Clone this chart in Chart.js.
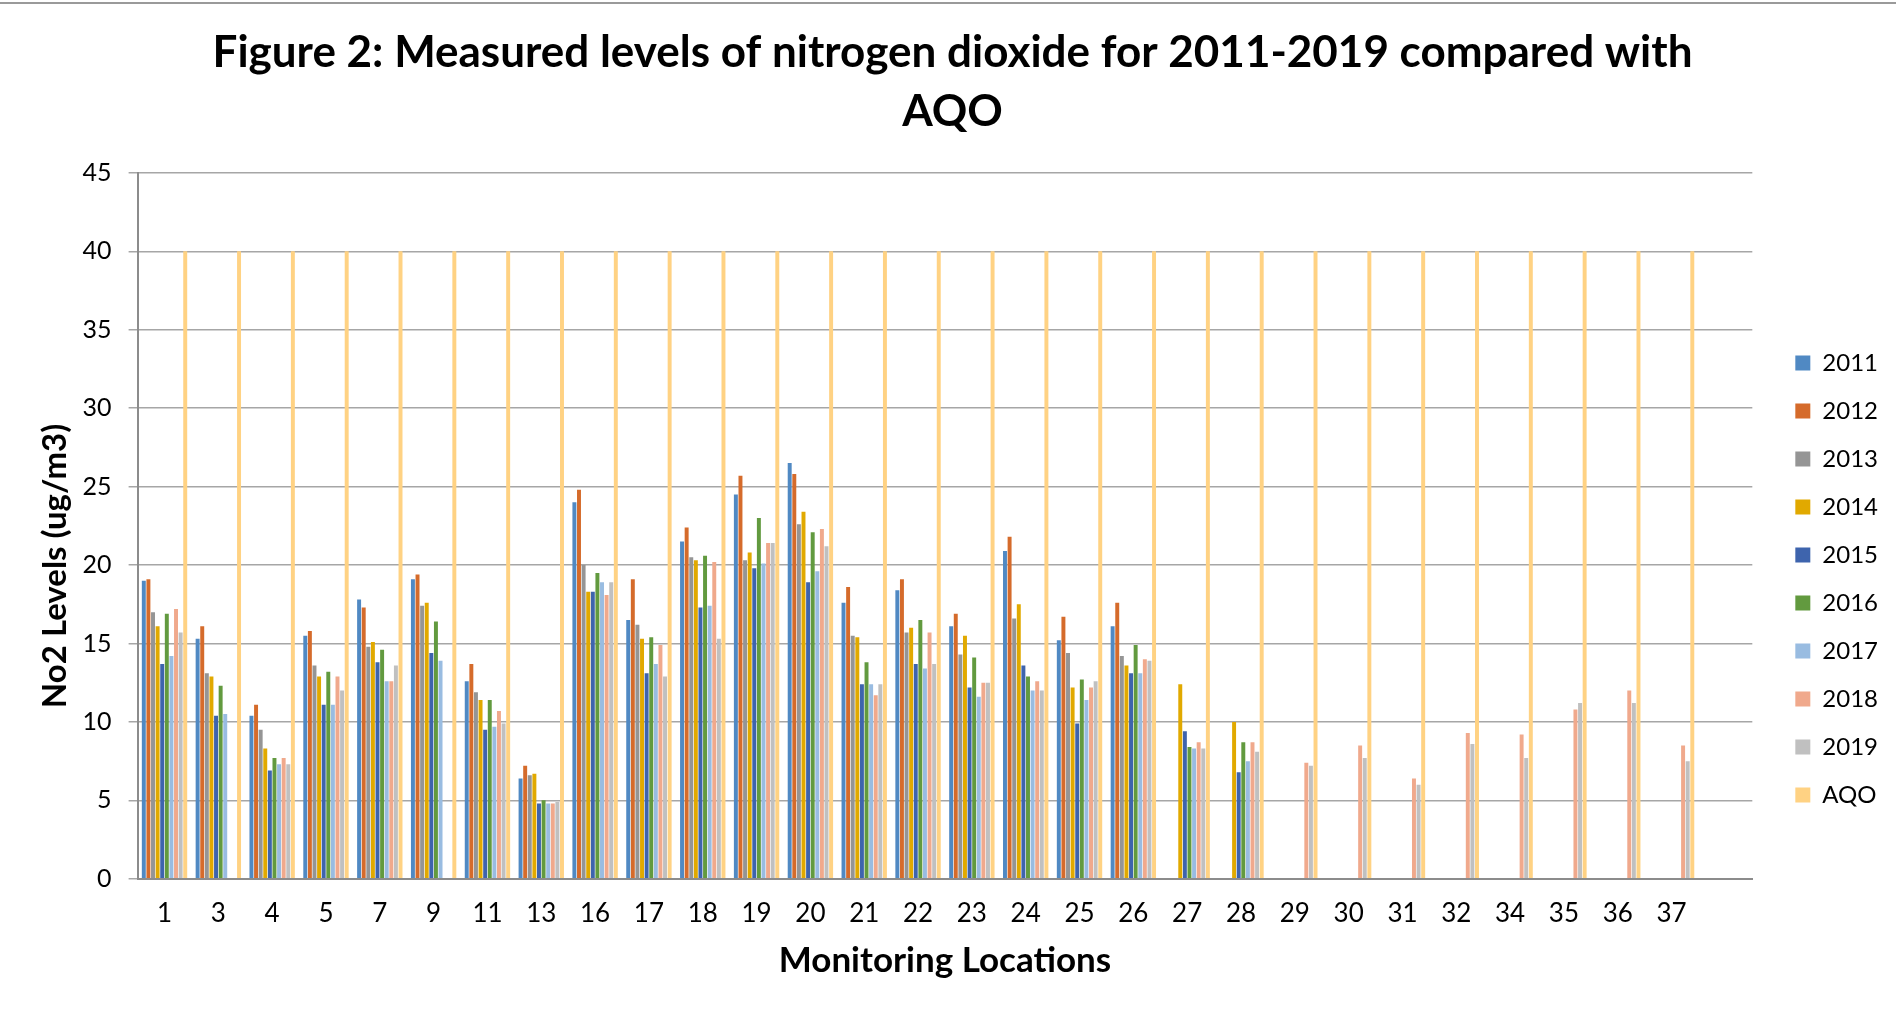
<!DOCTYPE html>
<html>
<head>
<meta charset="utf-8">
<title>Figure 2: NO2 levels 2011-2019</title>
<script src="https://cdn.jsdelivr.net/npm/chart.js@4.4.1/dist/chart.umd.min.js"></script>
<style>
    html, body { margin: 0; padding: 0; background: #ffffff; }
    .marco { position: relative; width: 1896px; height: 1015px; }
    .linea-superior { position: absolute; left: 0; top: 2px; width: 1896px; height: 2px; background: #9a9a9a; }
    canvas { display: block; }
</style>
</head>
<body>
<div class="marco">
    <canvas id="grafico" width="1896" height="1015"></canvas>
    <div class="linea-superior"></div>
</div>
<script>
// Ubicaciones de monitoreo (la ultima categoria esta vacia, como en la hoja original)
const ubicaciones = ['1', '3', '4', '5', '7', '9', '11', '13', '16', '17', '18', '19', '20', '21', '22', '23', '24', '25', '26', '27', '28', '29', '30', '31', '32', '34', '35', '36', '37', ''];

const niveles2011 = [19.0, 15.3, 10.4, 15.5, 17.8, 19.1, 12.6, 6.4, 24.0, 16.5, 21.5, 24.5, 26.5, 17.6, 18.4, 16.1, 20.9, 15.2, 16.1, null, null, null, null, null, null, null, null, null, null, null];
const niveles2012 = [19.1, 16.1, 11.1, 15.8, 17.3, 19.4, 13.7, 7.2, 24.8, 19.1, 22.4, 25.7, 25.8, 18.6, 19.1, 16.9, 21.8, 16.7, 17.6, null, null, null, null, null, null, null, null, null, null, null];
const niveles2013 = [17.0, 13.1, 9.5, 13.6, 14.8, 17.4, 11.9, 6.6, 20.0, 16.2, 20.5, 20.3, 22.6, 15.5, 15.7, 14.3, 16.6, 14.4, 14.2, null, null, null, null, null, null, null, null, null, null, null];
const niveles2014 = [16.1, 12.9, 8.3, 12.9, 15.1, 17.6, 11.4, 6.7, 18.3, 15.3, 20.3, 20.8, 23.4, 15.4, 16.0, 15.5, 17.5, 12.2, 13.6, 12.4, 10.0, null, null, null, null, null, null, null, null, null];
const niveles2015 = [13.7, 10.4, 6.9, 11.1, 13.8, 14.4, 9.5, 4.8, 18.3, 13.1, 17.3, 19.8, 18.9, 12.4, 13.7, 12.2, 13.6, 9.9, 13.1, 9.4, 6.8, null, null, null, null, null, null, null, null, null];
const niveles2016 = [16.9, 12.3, 7.7, 13.2, 14.6, 16.4, 11.4, 5.0, 19.5, 15.4, 20.6, 23.0, 22.1, 13.8, 16.5, 14.1, 12.9, 12.7, 14.9, 8.4, 8.7, null, null, null, null, null, null, null, null, null];
const niveles2017 = [14.2, 10.5, 7.3, 11.1, 12.6, 13.9, 9.7, 4.8, 18.9, 13.7, 17.4, 20.1, 19.6, 12.4, 13.4, 11.6, 12.0, 11.4, 13.1, 8.3, 7.5, null, null, null, null, null, null, null, null, null];
const niveles2018 = [17.2, null, 7.7, 12.9, 12.6, null, 10.7, 4.8, 18.1, 14.9, 20.2, 21.4, 22.3, 11.7, 15.7, 12.5, 12.6, 12.2, 14.0, 8.7, 8.7, 7.4, 8.5, 6.4, 9.3, 9.2, 10.8, 12.0, 8.5, null];
const niveles2019 = [15.7, null, 7.3, 12.0, 13.6, null, 9.9, 4.9, 18.9, 12.9, 15.3, 21.4, 21.2, 12.4, 13.7, 12.5, 12.0, 12.6, 13.9, 8.3, 8.1, 7.2, 7.7, 6.0, 8.6, 7.7, 11.2, 11.2, 7.5, null];
const nivelesAQO = [40, 40, 40, 40, 40, 40, 40, 40, 40, 40, 40, 40, 40, 40, 40, 40, 40, 40, 40, 40, 40, 40, 40, 40, 40, 40, 40, 40, 40, null];

const ticksEjeY = [0, 5, 10, 15, 20, 25, 30, 35, 40, 45];

const series = [
    { etiqueta: '2011', datos: niveles2011, color: '#5089c3' },
    { etiqueta: '2012', datos: niveles2012, color: '#d56b2b' },
    { etiqueta: '2013', datos: niveles2013, color: '#959595' },
    { etiqueta: '2014', datos: niveles2014, color: '#e1a900' },
    { etiqueta: '2015', datos: niveles2015, color: '#3e64ad' },
    { etiqueta: '2016', datos: niveles2016, color: '#629a3f' },
    { etiqueta: '2017', datos: niveles2017, color: '#99bce1' },
    { etiqueta: '2018', datos: niveles2018, color: '#f0a98c' },
    { etiqueta: '2019', datos: niveles2019, color: '#c0c0c0' },
    { etiqueta: 'AQO', datos: nivelesAQO, color: '#ffd283' }
];

const fuente = 'Lato, "Open Sans", sans-serif';

// La leyenda de Excel queda mas a la derecha y mas abajo que la de Chart.js.
const ajusteLeyenda = {
    id: 'ajusteLeyenda',
    afterLayout(chart) {
        const leyenda = chart.legend;
        if (!leyenda) return;
        leyenda.left += 19;
        leyenda.right += 19;
        leyenda.top += 86;
        leyenda.bottom += 86;
    }
};

const ctx = document.getElementById('grafico').getContext('2d');
new Chart(ctx, {
    type: 'bar',
    data: {
        labels: ubicaciones,
        datasets: series.map((serie) => ({
            label: serie.etiqueta,
            data: serie.datos,
            backgroundColor: serie.color,
            borderWidth: 0,
            barPercentage: 0.86,
            categoryPercentage: 0.855
        }))
    },
    options: {
        responsive: false,
        animation: false,
        layout: { padding: { left: 36, right: 27, top: 0, bottom: 29 } },
        plugins: {
            title: {
                display: true,
                text: ['Figure 2: Measured levels of nitrogen dioxide for 2011-2019 compared with', 'AQO'],
                color: '#000000',
                font: { family: fuente, size: 44, weight: 'bold', lineHeight: 1.34 },
                padding: { top: 23, bottom: 32 }
            },
            legend: {
                position: 'right',
                labels: {
                    color: '#000000',
                    font: { family: fuente, size: 24 },
                    boxWidth: 15,
                    boxHeight: 15,
                    padding: 24
                }
            },
            tooltip: { enabled: false }
        },
        scales: {
            x: {
                grid: { display: false, drawTicks: false },
                border: { display: true, color: '#8c8c8c', width: 2 },
                ticks: {
                    color: '#000000',
                    font: { family: fuente, size: 26 },
                    padding: 19,
                    maxRotation: 0,
                    autoSkip: false
                },
                title: {
                    display: true,
                    text: 'Monitoring Locations',
                    color: '#000000',
                    font: { family: fuente, size: 35, weight: 'bold', lineHeight: 1.2 },
                    padding: { top: -8, bottom: 4 }
                }
            },
            y: {
                min: 0,
                max: 45,
                afterBuildTicks: (eje) => {
                    eje.ticks = ticksEjeY.map((valor) => ({ value: valor }));
                },
                grid: { color: '#a6a6a6', lineWidth: 1.5, tickLength: 9, drawTicks: true },
                border: { display: true, color: '#8c8c8c', width: 2 },
                ticks: {
                    color: '#000000',
                    font: { family: fuente, size: 25 },
                    padding: 17
                },
                title: {
                    display: true,
                    text: 'No2 Levels (ug/m3)' + '\u00a0'.repeat(10),
                    color: '#000000',
                    font: { family: fuente, size: 33, weight: 'bold', lineHeight: 1.2 },
                    padding: { top: 0, bottom: -10 }
                }
            }
        }
    },
    plugins: [ajusteLeyenda]
});
</script>
</body>
</html>
